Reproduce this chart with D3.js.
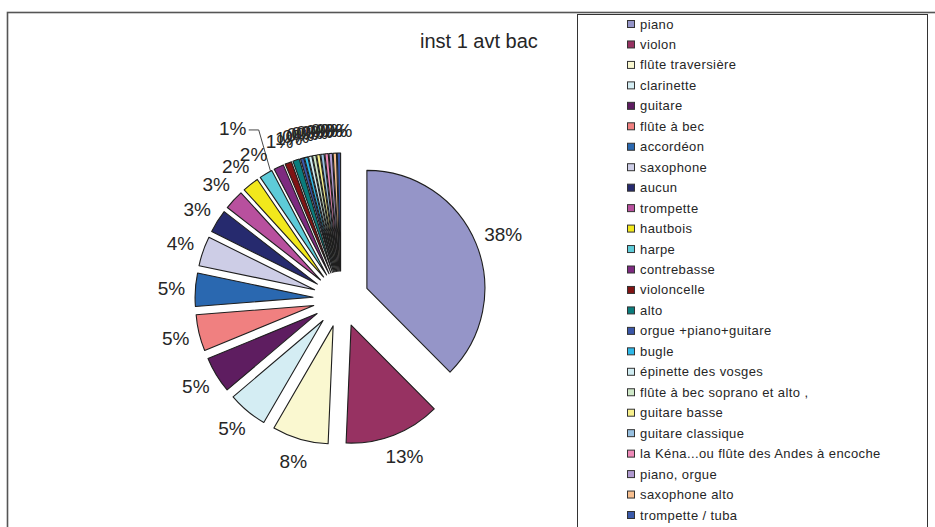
<!DOCTYPE html>
<html>
<head>
<meta charset="utf-8">
<script src="https://cdn.jsdelivr.net/npm/d3@7"></script>
<style>
  html, body { margin: 0; padding: 0; background: #fff; }
  svg { display: block; font-family: "Liberation Sans", Arial, sans-serif; }
</style>
</head>
<body>
<svg id="chart" width="935" height="527"></svg>
<script>
// ---- data ----
const title = "inst 1 avt bac";
const categories = [
  "piano", "violon", "flûte traversière", "clarinette", "guitare", "flûte à bec",
  "accordéon", "saxophone", "aucun", "trompette", "hautbois", "harpe",
  "contrebasse", "violoncelle", "alto", "orgue +piano+guitare", "bugle",
  "épinette des vosges", "flûte à bec soprano et alto ,", "guitare basse",
  "guitare classique", "la Kéna...ou flûte des Andes à encoche", "piano, orgue",
  "saxophone alto", "trompette / tuba"
];
const counts = [83, 29, 17, 12, 11, 11, 10, 9, 7, 6, 5, 4, 3, 2, 2, 1, 1, 1, 1, 1, 1, 1, 1, 1, 1];
const colors = [
  "#9595c8", "#973262", "#faf8d0", "#d4edf3", "#5e1d60", "#f08080",
  "#2a68b0", "#cdcde6", "#262a6e", "#b8509e", "#f2e81c", "#5ecbd8",
  "#7e2a80", "#801414", "#0a7c7c", "#3a56a8", "#2eb8e8",
  "#d0ecf2", "#cfe8c8", "#f8f08c", "#98c0e0", "#ee8ab8", "#b09ad0",
  "#f8c090", "#3a5aaa"
];

// ---- layout ----
const svg = d3.select("#chart");
const cx = 341, cy = 299, R = 118, explode = 28, labelGap = 13;
const textColor = "#262626";

// outer frame
svg.append("rect").attr("x", 7.5).attr("y", 12.5).attr("width", 940).attr("height", 540)
  .attr("fill", "none").attr("stroke", "#555").attr("stroke-width", 1.6);

// title
svg.append("text").attr("x", 420).attr("y", 48).attr("font-size", 20)
  .attr("fill", textColor).text(title);

// pie
const total = d3.sum(counts);
const pie = d3.pie().sort(null).value(d => d.v).startAngle(0).endAngle(2 * Math.PI);
const arcs = pie(categories.map((c, i) => ({ c, v: counts[i], col: colors[i], i })));
const arc = d3.arc().innerRadius(0).outerRadius(R);

const g = svg.append("g").attr("transform", `translate(${cx},${cy})`);

arcs.forEach(a => {
  const mid = (a.startAngle + a.endAngle) / 2;
  a.dir = [Math.sin(mid), -Math.cos(mid)];
  a.apex = [explode * a.dir[0], explode * a.dir[1]];
});

g.selectAll("path.slice").data(arcs).join("path")
  .attr("class", "slice")
  .attr("transform", d => `translate(${d.apex[0]},${d.apex[1]})`)
  .attr("d", arc)
  .attr("fill", d => d.data.col)
  .attr("stroke", "#1e1e1e")
  .attr("stroke-width", 1.1)
  .attr("stroke-linejoin", "round");

// labels
const fmt = d => Math.round(d.data.v / total * 100) + "%";
const fontSize = 19;
arcs.forEach(a => {
  const txt = fmt(a);
  const w = txt.length * 11, h = 20;
  let x = a.apex[0] + (R + labelGap) * a.dir[0] + a.dir[0] * w / 2;
  let y = a.apex[1] + (R + labelGap) * a.dir[1] + a.dir[1] * h / 2;
  if (a.data.c === "contrebasse") {
    // label moved away with a leader line
    const ox = a.apex[0] + R * a.dir[0], oy = a.apex[1] + R * a.dir[1];
    x = ox - 46; y = oy - 38;
    g.append("path")
      .attr("d", `M${x + 16},${y + 1}H${x + 26}L${ox - 8},${oy + 5}`)
      .attr("fill", "none").attr("stroke", "#333").attr("stroke-width", 0.9);
  }
  a.lx = x; a.ly = y;
});

g.selectAll("text.lbl").data(arcs).join("text")
  .attr("class", "lbl")
  .attr("x", d => d.lx).attr("y", d => d.ly)
  .attr("text-anchor", "middle").attr("dominant-baseline", "central")
  .attr("font-size", fontSize).attr("fill", textColor)
  .text(fmt);

// legend
const lg = svg.append("g");
lg.append("rect").attr("x", 577.5).attr("y", 14.5).attr("width", 350).attr("height", 530)
  .attr("fill", "#fff").attr("stroke", "#333").attr("stroke-width", 1);

const ly = d3.scaleLinear().domain([0, categories.length - 1]).range([24, 515]);
const items = lg.selectAll("g.item").data(categories).join("g").attr("class", "item")
  .attr("transform", (d, i) => `translate(627,${ly(i)})`);
items.append("rect").attr("x", 0.5).attr("y", -3.5).attr("width", 7).attr("height", 7)
  .attr("fill", (d, i) => colors[i]).attr("stroke", "#333").attr("stroke-width", 1);
items.append("text").attr("x", 13).attr("y", 0).attr("dominant-baseline", "central")
  .attr("font-size", 13).attr("letter-spacing", 0.4).attr("fill", textColor).text(d => d);
</script>
</body>
</html>
